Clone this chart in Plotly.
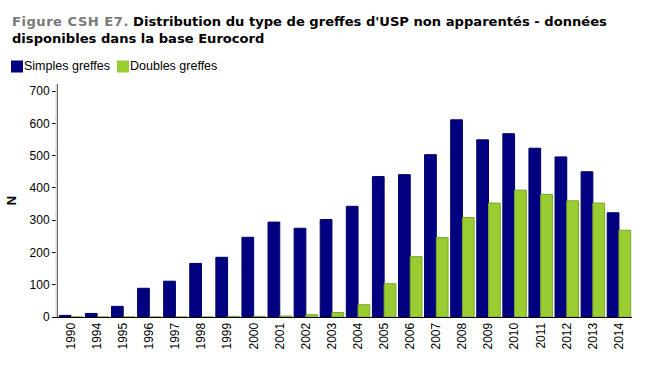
import plotly.graph_objects as go

years = ["1990", "1994", "1995", "1996", "1997", "1998", "1999", "2000", "2001", "2002", "2003",
         "2004", "2005", "2006", "2007", "2008", "2009", "2010", "2011", "2012", "2013", "2014"]
simples = [5, 11, 33, 89, 111, 166, 185, 247, 294, 275, 302,
           343, 435, 441, 503, 611, 549, 568, 523, 496, 450, 323]
doubles = [0, 0, 0, 0, 0, 0, 2, 2, 3, 7, 14,
           38, 103, 187, 246, 308, 353, 393, 380, 360, 353, 269]
series_names = ["Simples greffes", "Doubles greffes"]
series_colors = ["#000080", "#9acd32"]
edge_colors = ["#000066", "#7ba428"]

W, H = 645, 378
ML, MR, MT, MB = 58, 13, 84, 61
PW, PH = W - ML - MR, H - MT - MB


def px(xpix):
    return (xpix - ML) / PW


def py(ypix):
    return (H - MB - ypix) / PH


fig = go.Figure()
for vals, name, col, edge in zip([simples, doubles], series_names, series_colors, edge_colors):
    fig.add_trace(go.Bar(x=years, y=vals, name=name, showlegend=False,
                         marker=dict(color=col, line=dict(color=edge, width=1))))

annotations = [
    dict(text="<span style='color:#7a7a7a;letter-spacing:0.5px'><b>Figure CSH E7.</b></span> "
              "<b>Distribution du type de greffes d'USP non apparentés - données<br>"
              "disponibles dans la base Eurocord</b>",
         xref="paper", yref="paper", x=px(10), y=py(12), xanchor="left", yanchor="top",
         align="left", showarrow=False,
         font=dict(family="DejaVu Sans, Verdana, sans-serif", size=13.1, color="black")),
]
shapes = [
    # light shadow left of the y axis
    dict(type="line", xref="paper", yref="paper", x0=px(56.5), x1=px(56.5), y0=0, y1=1,
         line=dict(color="#d4d4d4", width=2)),
]
# manual legend (squares + labels)
legend_x = [11, 117]
for lx, name, col in zip(legend_x, series_names, series_colors):
    shapes.append(dict(type="rect", xref="paper", yref="paper",
                       x0=px(lx), x1=px(lx + 12), y0=py(72.5), y1=py(60.5),
                       line=dict(width=0), fillcolor=col))
    annotations.append(dict(text=name, xref="paper", yref="paper", x=px(lx + 11), y=py(66.5),
                            xanchor="left", yanchor="middle", showarrow=False,
                            font=dict(size=12.5, color="black")))

fig.update_layout(
    width=W, height=H,
    margin=dict(l=ML, r=MR, t=MT, b=MB),
    paper_bgcolor="white", plot_bgcolor="white",
    font=dict(family="Liberation Sans, Arial, sans-serif", size=12, color="black"),
    barmode="group", bargap=0.1, bargroupgap=0.0,
    showlegend=False,
    annotations=annotations,
    shapes=shapes,
    xaxis=dict(type="category", tickangle=-90, showline=True, linecolor="black", linewidth=1,
               ticks="", tickfont=dict(size=12), showgrid=False, automargin=False),
    yaxis=dict(range=[0, 722], tickvals=[0, 100, 200, 300, 400, 500, 600, 700],
               showline=True, linecolor="black", linewidth=1, ticks="outside", ticklen=5,
               tickcolor="black", showgrid=False, zeroline=False, tickfont=dict(size=12),
               automargin=False,
               title=dict(text="<b>N</b>", font=dict(size=13), standoff=10)),
)

fig.write_html("out.html", config={"displayModeBar": False},
               post_script="document.body.style.margin='0';")
